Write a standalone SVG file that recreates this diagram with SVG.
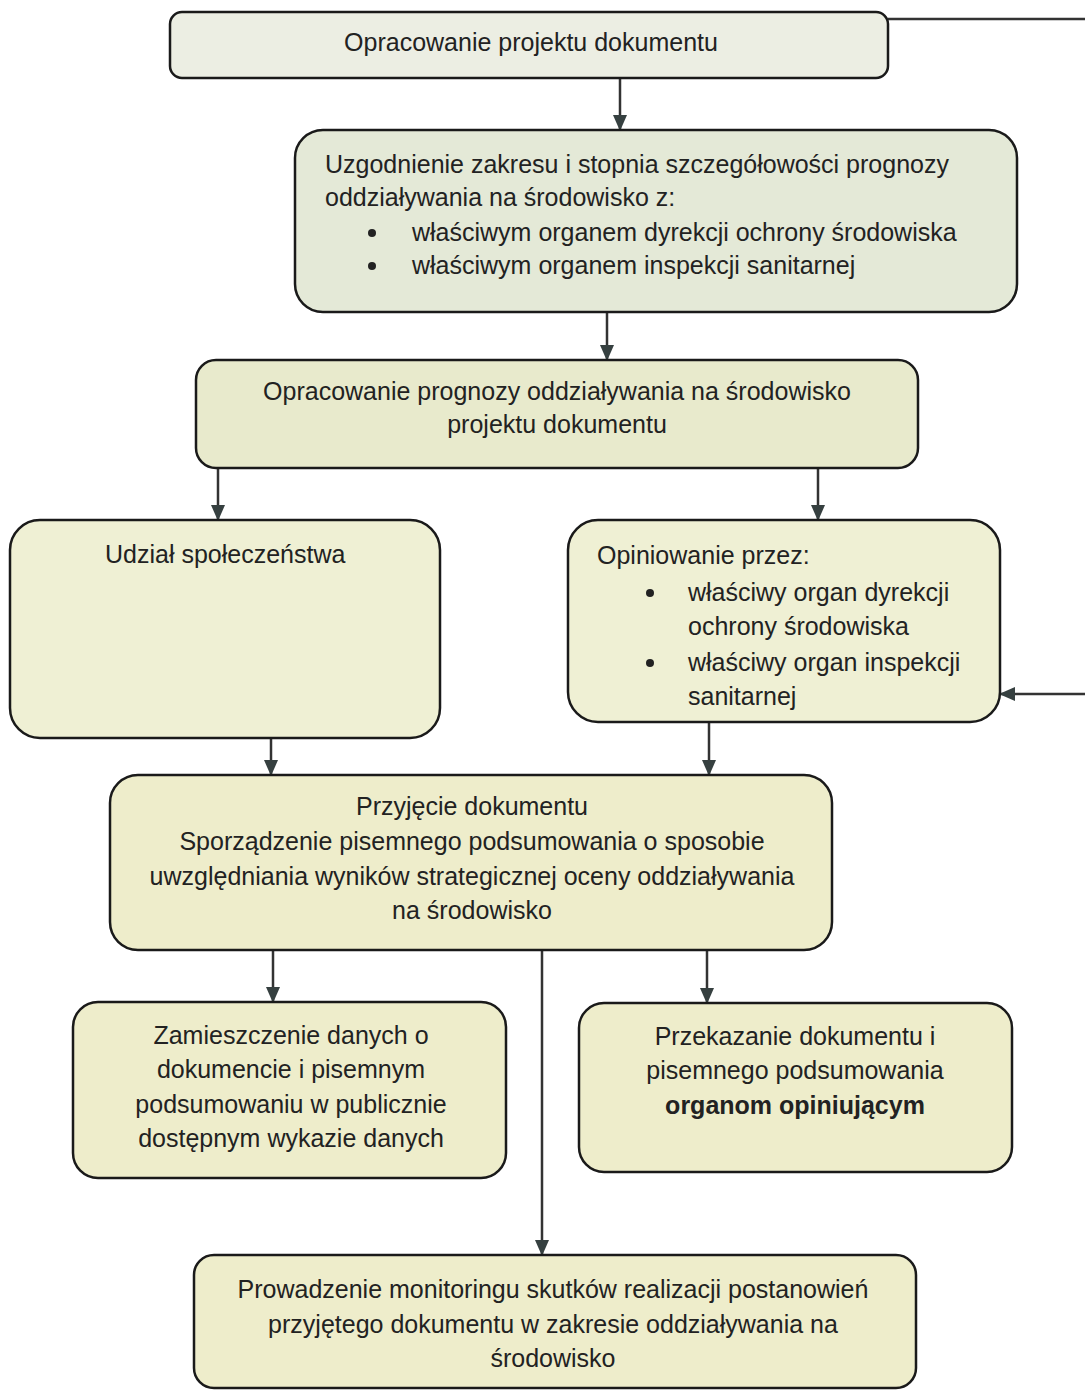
<svg xmlns="http://www.w3.org/2000/svg" width="1085" height="1390" viewBox="0 0 1085 1390">
<style>
.box{stroke:#1a1a1a;stroke-width:2.5}
.t{font-family:"Liberation Sans",Arial,sans-serif;font-size:25px;fill:#222}
.c{text-anchor:middle}
.b{font-weight:bold}
.conn{stroke:#333;stroke-width:2.5;fill:none}
</style>
<defs>
<marker id="ah" markerUnits="userSpaceOnUse" markerWidth="16" markerHeight="14" refX="15" refY="7" orient="auto">
<path d="M0,0 L16,7 L0,14 z" fill="#364040"/>
</marker>
</defs>
<rect width="1085" height="1390" fill="#ffffff"/>
<g id="connectors">
<path class="conn" d="M620,78 V130" marker-end="url(#ah)"/>
<path class="conn" d="M607,312 V360" marker-end="url(#ah)"/>
<path class="conn" d="M218,468 V520" marker-end="url(#ah)"/>
<path class="conn" d="M818,468 V520" marker-end="url(#ah)"/>
<path class="conn" d="M271,738 V775" marker-end="url(#ah)"/>
<path class="conn" d="M709,722 V775" marker-end="url(#ah)"/>
<path class="conn" d="M273,950 V1002" marker-end="url(#ah)"/>
<path class="conn" d="M707,950 V1003" marker-end="url(#ah)"/>
<path class="conn" d="M542,950 V1255" marker-end="url(#ah)"/>
<path class="conn" d="M888,19 H1100 V694 H1000" marker-end="url(#ah)"/>
</g>
<g id="n1">
<rect class="box" x="170" y="12" width="718" height="66" rx="12" fill="#eceee3"/>
<text class="t c" x="531" y="51">Opracowanie projektu dokumentu</text>
</g>
<g id="n2">
<rect class="box" x="295" y="130" width="722" height="182" rx="28" fill="#e4e9d7"/>
<text class="t" x="325" y="173">Uzgodnienie zakresu i stopnia szczegółowości prognozy</text>
<text class="t" x="325" y="206">oddziaływania na środowisko z:</text>
<circle cx="372" cy="233" r="4" fill="#222"/>
<text class="t" x="412" y="241">właściwym organem dyrekcji ochrony środowiska</text>
<circle cx="372" cy="266" r="4" fill="#222"/>
<text class="t" x="412" y="274">właściwym organem inspekcji sanitarnej</text>
</g>
<g id="n3">
<rect class="box" x="196" y="360" width="722" height="108" rx="20" fill="#e8eacc"/>
<text class="t c" x="557" y="400">Opracowanie prognozy oddziaływania na środowisko</text>
<text class="t c" x="557" y="433">projektu dokumentu</text>
</g>
<g id="n4">
<rect class="box" x="10" y="520" width="430" height="218" rx="30" fill="#eff0d4"/>
<text class="t" x="105" y="563">Udział społeczeństwa</text>
</g>
<g id="n5">
<rect class="box" x="568" y="520" width="432" height="202" rx="30" fill="#eff0d4"/>
<text class="t" x="597" y="564">Opiniowanie przez:</text>
<circle cx="650" cy="593" r="4" fill="#222"/>
<text class="t" x="688" y="601">właściwy organ dyrekcji</text>
<text class="t" x="688" y="635">ochrony środowiska</text>
<circle cx="650" cy="663" r="4" fill="#222"/>
<text class="t" x="688" y="671">właściwy organ inspekcji</text>
<text class="t" x="688" y="705">sanitarnej</text>
</g>
<g id="n6">
<rect class="box" x="110" y="775" width="722" height="175" rx="28" fill="#eeedcb"/>
<text class="t c" x="472" y="815">Przyjęcie dokumentu</text>
<text class="t c" x="472" y="850">Sporządzenie pisemnego podsumowania o sposobie</text>
<text class="t c" x="472" y="885">uwzględniania wyników strategicznej oceny oddziaływania</text>
<text class="t c" x="472" y="919">na środowisko</text>
</g>
<g id="n7">
<rect class="box" x="73" y="1002" width="433" height="176" rx="25" fill="#eeedcb"/>
<text class="t c" x="291" y="1044">Zamieszczenie danych o</text>
<text class="t c" x="291" y="1078">dokumencie i pisemnym</text>
<text class="t c" x="291" y="1113">podsumowaniu w publicznie</text>
<text class="t c" x="291" y="1147">dostępnym wykazie danych</text>
</g>
<g id="n8">
<rect class="box" x="579" y="1003" width="433" height="169" rx="25" fill="#eeedcb"/>
<text class="t c" x="795" y="1045">Przekazanie dokumentu i</text>
<text class="t c" x="795" y="1079">pisemnego podsumowania</text>
<text class="t c b" x="795" y="1114">organom opiniującym</text>
</g>
<g id="n9">
<rect class="box" x="194" y="1255" width="722" height="133" rx="20" fill="#eeedcb"/>
<text class="t c" x="553" y="1298">Prowadzenie monitoringu skutków realizacji postanowień</text>
<text class="t c" x="553" y="1333">przyjętego dokumentu w zakresie oddziaływania na</text>
<text class="t c" x="553" y="1367">środowisko</text>
</g>
</svg>
